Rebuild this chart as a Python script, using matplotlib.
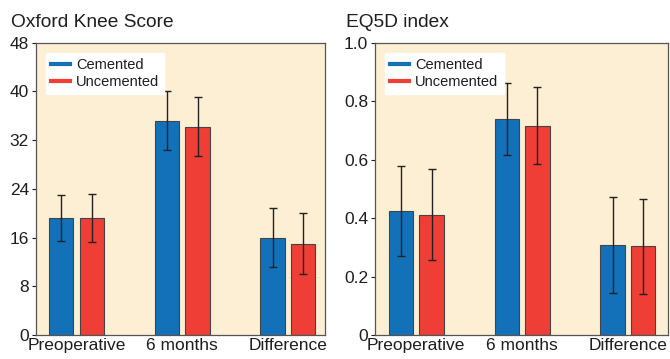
import numpy as np
import matplotlib.pyplot as plt
from matplotlib.lines import Line2D

plt.rcParams['font.family'] = ['Liberation Sans', 'DejaVu Sans']

categories = ["Preoperative", "6 months", "Difference"]
series = ["Cemented", "Uncemented"]

oks_cemented = [19.2, 35.2, 16.0]
oks_cemented_sd = [3.8, 4.85, 4.85]
oks_uncemented = [19.2, 34.2, 15.0]
oks_uncemented_sd = [4.0, 4.85, 5.05]

eq5d_cemented = [0.423, 0.739, 0.307]
eq5d_cemented_sd = [0.154, 0.124, 0.164]
eq5d_uncemented = [0.412, 0.716, 0.303]
eq5d_uncemented_sd = [0.157, 0.132, 0.163]

oks_ticks = [0, 8, 16, 24, 32, 40, 48]
eq5d_ticks = [0, 0.2, 0.4, 0.6, 0.8, 1.0]
eq5d_ticklabels = ["0", "0.2", "0.4", "0.6", "0.8", "1.0"]

BLUE = "#1271b9"
RED = "#ee3e36"
BG = "#fdefd3"
TXT = "#1e1e1e"


def draw_panel(ax, cem, cem_sd, unc, unc_sd, ticks, ticklabels, top, xlim):
    x = np.arange(len(categories))
    w = 0.23
    off = 0.145
    err_kw = dict(ecolor="#222222", elinewidth=1.0, capsize=3, capthick=1.0)
    ax.bar(x - off, cem, w, yerr=cem_sd, color=BLUE, edgecolor="#444444",
           linewidth=0.8, error_kw=err_kw, zorder=2)
    ax.bar(x + off, unc, w, yerr=unc_sd, color=RED, edgecolor="#444444",
           linewidth=0.8, error_kw=err_kw, zorder=2)
    ax.set_facecolor(BG)
    ax.set_ylim(0, top)
    ax.set_xlim(*xlim)
    ax.set_yticks(ticks)
    ax.set_yticklabels(ticklabels)
    ax.set_xticks(x)
    ax.set_xticklabels(categories)
    ax.tick_params(axis="y", direction="out", length=3, width=0.8,
                   labelsize=12.5, pad=2, colors=TXT)
    ax.tick_params(axis="x", length=0, labelsize=12.5, pad=2, colors=TXT)
    for s in ax.spines.values():
        s.set_color("#555555")
        s.set_linewidth(0.9)
    handles = [Line2D([], [], color=BLUE, lw=3), Line2D([], [], color=RED, lw=3)]
    leg = ax.legend(handles, series, loc="upper left", bbox_to_anchor=(0.035, 0.965),
                    frameon=True, fancybox=False, fontsize=10.5, handlelength=1.3,
                    handletextpad=0.4, borderpad=0.35, labelspacing=0.2,
                    borderaxespad=0)
    for t in leg.get_texts():
        t.set_color(TXT)
    leg.get_frame().set_edgecolor("white")
    leg.get_frame().set_facecolor("white")
    leg.get_frame().set_alpha(1)
    return ax


fig = plt.figure(figsize=(6.7, 3.59), dpi=100)
ax1 = fig.add_axes([0.0537, 0.0669, 0.4313, 0.814])
ax2 = fig.add_axes([0.5597, 0.0669, 0.4373, 0.814])

draw_panel(ax1, oks_cemented, oks_cemented_sd, oks_uncemented, oks_uncemented_sd,
           oks_ticks, [str(t) for t in oks_ticks], 48, (-0.385, 2.35))
draw_panel(ax2, eq5d_cemented, eq5d_cemented_sd, eq5d_uncemented, eq5d_uncemented_sd,
           eq5d_ticks, eq5d_ticklabels, 1.0, (-0.389, 2.379))

fig.text(0.016, 0.925, "Oxford Knee Score", fontsize=13.8, color=TXT)
fig.text(0.516, 0.925, "EQ5D index", fontsize=13.8, color=TXT)

fig.savefig("out.png", dpi=100)
